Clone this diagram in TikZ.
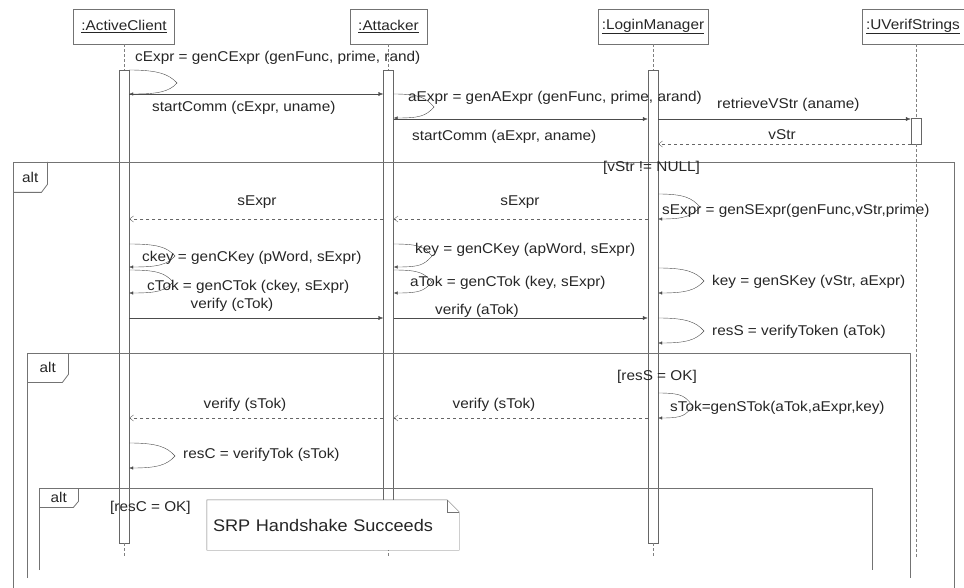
\documentclass[tikz,border=0pt]{standalone}
\usepackage{fontspec}
\setmainfont[FakeStretch=1.08]{Liberation Sans}
\usetikzlibrary{arrows.meta,positioning}

\begin{document}
\begin{tikzpicture}[x=1pt, y=-1pt,
	font=\fontsize{14.2}{16}\selectfont, text=black!85,
	obj/.style  = {draw=black!55, minimum height=35pt, inner sep=0pt},
	bar/.style  = {draw=black!60, fill=white, minimum width=10pt, inner sep=0pt},
	life/.style = {draw=black!50, densely dashed},
	msg/.style  = {draw=black!70, -{Latex[length=5pt,width=4pt]}},
	ret/.style  = {draw=black!60, dashed, -{Straight Barb[length=4pt,width=6pt]}},
	selfmsg/.style = {draw=black!70, -{Latex[length=4pt,width=3.5pt]}},
	lbl/.style  = {inner sep=0pt, anchor=west},
	clbl/.style = {inner sep=0pt},
	frame/.style = {draw=black!55, line width=0.8pt},
	tag/.style  = {inner sep=0pt, anchor=north west},
	note/.style = {inner xsep=6pt, inner ysep=0pt, text width=240pt, align=left,
		minimum height=50pt, fill=white, font=\fontsize{16.8}{19}\selectfont},
	]
	
	\useasboundingbox (0,0) rectangle (964,588);
	
	% objects in the top row
	\node[obj, minimum width=101pt] (ac) at (124,26.5) {\underline{:ActiveClient}};
	\node[obj, minimum width=77pt]  (at) at (388.5,26.5) {\underline{:Attacker}};
	\node[obj, minimum width=110pt] (lm) at (653,26.5) {\underline{:LoginManager}};
	\node[obj, minimum width=102pt] (uv) at (913,26.5) {\underline{:UVerifStrings}};
	
	% activation bars
	\node[bar, minimum height=473pt] (acbar) at (124,306.5) {};
	\node[bar, minimum height=473pt] (atbar) at (388.5,306.5) {};
	\node[bar, minimum height=473pt] (lmbar) at (653,306.5) {};
	\node[bar, minimum height=26pt]  (uvbar) at (916,131) {};
	
	% lifelines
	\draw[life] (ac.south) -- (acbar.north);
	\draw[life] (at.south) -- (atbar.north);
	\draw[life] (lm.south) -- (lmbar.north);
	\draw[life] (uv.south -| uvbar.north) -- (uvbar.north);
	\foreach \b in {acbar,atbar,lmbar}
	\draw[life] (\b.south) -- ++(0,13);
	\draw[life] (uvbar.south) -- ++(0,413);
	
	% first exchange
	\node[lbl] (l1) at (135,58) {cExpr = genCExpr (genFunc, prime, rand)};
	\draw[selfmsg] (acbar.east |- 0,70) .. controls +(28,0) and +(-8,-9) .. (177,83) .. controls +(-8,9) and +(28,0) .. (acbar.east |- 0,94);
	\draw[msg] (acbar.east |- 0,94) -- (atbar.west |- 0,94);
	\node[lbl] (l2) at (152,108) {startComm (cExpr, uname)};
	
	\draw[selfmsg] (atbar.east |- 0,94) .. controls +(26,0) and +(-8,-9) .. (434,107) .. controls +(-8,9) and +(26,0) .. (atbar.east |- 0,118);
	\node[lbl] (l3) at (408,98) {aExpr = genAExpr (genFunc, prime, arand)};
	\draw[msg] (atbar.east |- 0,119) -- (lmbar.west |- 0,119);
	\node[lbl] (l4) at (412,137) {startComm (aExpr, aname)};
	
	\draw[msg] (lmbar.east |- 0,119) -- (uvbar.west |- 0,119);
	\node[lbl] (l5) at (717,105) {retrieveVStr (aname)};
	\draw[ret] (uvbar.west |- 0,144) -- (lmbar.east |- 0,144);
	\node[clbl] (l6) at (782,135) {vStr};
	
	% outer alt frame
	\draw[frame] (13,588) -- (13,162) -- (954,162) -- (954,588);
	\node[tag, minimum width=34pt, minimum height=30pt] (t1) at (13,162) {alt};
	\draw[frame] (t1.north east) -- ([yshift=8pt]t1.south east) -- ([xshift=-6pt]t1.south east) -- (t1.south west);
	\node[lbl] (g1) at (603,168) {[vStr != NULL]};
	
	\draw[selfmsg] (lmbar.east |- 0,194) .. controls +(26,0) and +(-8,-9) .. (700,207) .. controls +(-8,9) and +(26,0) .. (lmbar.east |- 0,219);
	\node[lbl] (l7) at (662,211) {sExpr = genSExpr(genFunc,vStr,prime)};
	\draw[ret] (lmbar.west |- 0,219) -- (atbar.east |- 0,219);
	\draw[ret] (atbar.west |- 0,219) -- (acbar.east |- 0,219);
	\node[clbl] (l8) at (520,202) {sExpr};
	\node[clbl] (l9) at (257,202) {sExpr};
	
	\draw[selfmsg] (acbar.east |- 0,244) .. controls +(28,0) and +(-8,-9) .. (175,256) .. controls +(-8,9) and +(28,0) .. (acbar.east |- 0,267);
	\node[lbl] (l10) at (142,258) {ckey = genCKey (pWord, sExpr)};
	\draw[selfmsg] (acbar.east |- 0,270) .. controls +(28,0) and +(-8,-9) .. (173,282) .. controls +(-8,9) and +(28,0) .. (acbar.east |- 0,293);
	\node[lbl] (l11) at (147,287) {cTok = genCTok (ckey, sExpr)};
	
	\draw[selfmsg] (atbar.east |- 0,244) .. controls +(26,0) and +(-8,-9) .. (432,256) .. controls +(-8,9) and +(26,0) .. (atbar.east |- 0,267);
	\node[lbl] (l12) at (415,250) {key = genCKey (apWord, sExpr)};
	\draw[selfmsg] (atbar.east |- 0,270) .. controls +(26,0) and +(-8,-9) .. (432,282) .. controls +(-8,9) and +(26,0) .. (atbar.east |- 0,293);
	\node[lbl] (l13) at (410,283) {aTok = genCTok (key, sExpr)};
	
	\draw[selfmsg] (lmbar.east |- 0,268) .. controls +(28,0) and +(-8,-9) .. (704,281) .. controls +(-8,9) and +(28,0) .. (lmbar.east |- 0,293);
	\node[lbl] (l14) at (712,282) {key = genSKey (vStr, aExpr)};
	
	\draw[msg] (acbar.east |- 0,318) -- (atbar.west |- 0,318);
	\node[clbl] (l15) at (232,305) {verify (cTok)};
	\draw[msg] (atbar.east |- 0,318) -- (lmbar.west |- 0,318);
	\node[lbl] (l16) at (435,311) {verify (aTok)};
	
	\draw[selfmsg] (lmbar.east |- 0,318) .. controls +(28,0) and +(-8,-9) .. (704,331) .. controls +(-8,9) and +(28,0) .. (lmbar.east |- 0,343);
	\node[lbl] (l17) at (712,332) {resS = verifyToken (aTok)};
	
	% second alt frame
	\draw[frame] (27,578) -- (27,353) -- (910,353) -- (910,578);
	\node[tag, minimum width=41pt, minimum height=29pt] (t2) at (27,353) {alt};
	\draw[frame] (t2.north east) -- ([yshift=8pt]t2.south east) -- ([xshift=-6pt]t2.south east) -- (t2.south west);
	\node[lbl] (g2) at (617,377) {[resS = OK]};
	
	\draw[selfmsg] (lmbar.east |- 0,393) .. controls +(26,0) and +(-8,-9) .. (693,406) .. controls +(-8,9) and +(26,0) .. (lmbar.east |- 0,418);
	\node[lbl] (l18) at (670,408) {sTok=genSTok(aTok,aExpr,key)};
	\draw[ret] (lmbar.west |- 0,418) -- (atbar.east |- 0,418);
	\draw[ret] (atbar.west |- 0,418) -- (acbar.east |- 0,418);
	\node[clbl] (l19) at (494,405) {verify (sTok)};
	\node[clbl] (l20) at (245,405) {verify (sTok)};
	
	\draw[selfmsg] (acbar.east |- 0,443) .. controls +(28,0) and +(-8,-9) .. (175,456) .. controls +(-8,9) and +(28,0) .. (acbar.east |- 0,468);
	\node[lbl] (l21) at (183,455) {resC = verifyTok (sTok)};
	
	% third alt frame
	\draw[frame] (39,570) -- (39,488) -- (872,488) -- (872,570);
	\node[tag, minimum width=39pt, minimum height=19pt] (t3) at (39,488) {alt};
	\draw[frame] (t3.north east) -- ([yshift=6pt]t3.south east) -- ([xshift=-5pt]t3.south east) -- (t3.south west);
	\node[lbl] (g3) at (110,508) {[resC = OK]};
	
	% note
	\node[note] (srp) at (333,525) {SRP Handshake Succeeds};
	\draw[draw=black!55] (srp.north west) -- (srp.south west) -- (srp.south east)
	-- ([yshift=-12pt]srp.north east) -- ([xshift=-12pt]srp.north east) -- cycle;
	\draw[draw=black!55] ([xshift=-12pt]srp.north east) -- ++(0,12) -- ([yshift=-12pt]srp.north east);
\end{tikzpicture}
\end{document}
